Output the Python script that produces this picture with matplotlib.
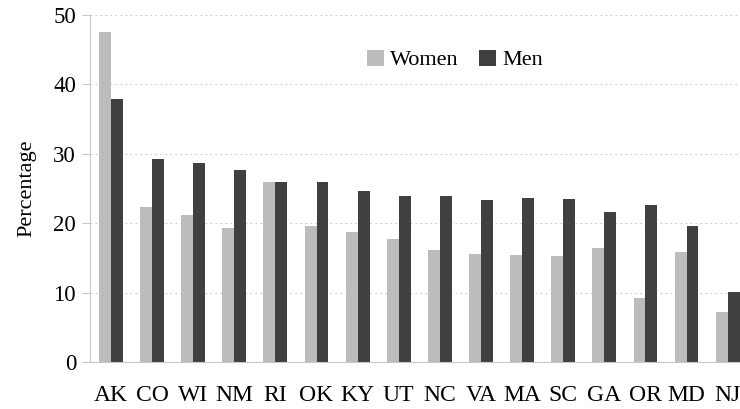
import matplotlib.pyplot as plt
import numpy as np

plt.rcParams["font.family"] = ["Liberation Serif", "DejaVu Serif"]

states = ["AK", "CO", "WI", "NM", "RI", "OK", "KY", "UT",
          "NC", "VA", "MA", "SC", "GA", "OR", "MD", "NJ"]
women = [47.5, 22.4, 21.2, 19.3, 25.9, 19.6, 18.8, 17.7,
         16.1, 15.6, 15.4, 15.3, 16.5, 9.3, 15.9, 7.2]
men = [37.9, 29.2, 28.7, 27.7, 25.9, 25.9, 24.7, 23.9,
       24.0, 23.3, 23.7, 23.5, 21.7, 22.6, 19.6, 10.1]

fig = plt.figure(figsize=(7.4, 4.09), dpi=100)
ax = fig.add_axes([0.1216, 0.1142, 0.8784, 0.8491])

x = np.arange(len(states))
w = 0.29
ax.bar(x - w / 2, women, width=w, color="#bcbcbc", label="Women", zorder=2)
ax.bar(x + w / 2, men, width=w, color="#404040", label="Men", zorder=2)

ax.set_xlim(-0.51, len(states) - 0.7)
ax.set_ylim(0, 50)
ax.set_yticks(range(0, 51, 10))
ax.set_xticks(x)
ax.set_xticklabels(states)
ax.yaxis.grid(True, linestyle=(0, (1.5, 3)), color="#c8c8c8", linewidth=0.8, zorder=0)

for s in ["top", "right"]:
    ax.spines[s].set_visible(False)
for s in ["left", "bottom"]:
    ax.spines[s].set_color("#c8c8c8")
    ax.spines[s].set_linewidth(0.8)

ax.tick_params(axis="y", length=6, color="#c8c8c8", labelsize=16.5, pad=4)
ax.tick_params(axis="x", length=0, labelsize=17, pad=16)
ax.set_ylabel("Percentage", fontsize=16, labelpad=12)

ax.legend(loc="center left", bbox_to_anchor=(367 / 740, 1 - 60 / 409),
          bbox_transform=fig.transFigure, borderaxespad=0, borderpad=0,
          ncol=2, frameon=False, fontsize=16, handlelength=0.75,
          handleheight=0.75, handletextpad=0.27, columnspacing=0.95)

fig.savefig("out.png", dpi=100)
